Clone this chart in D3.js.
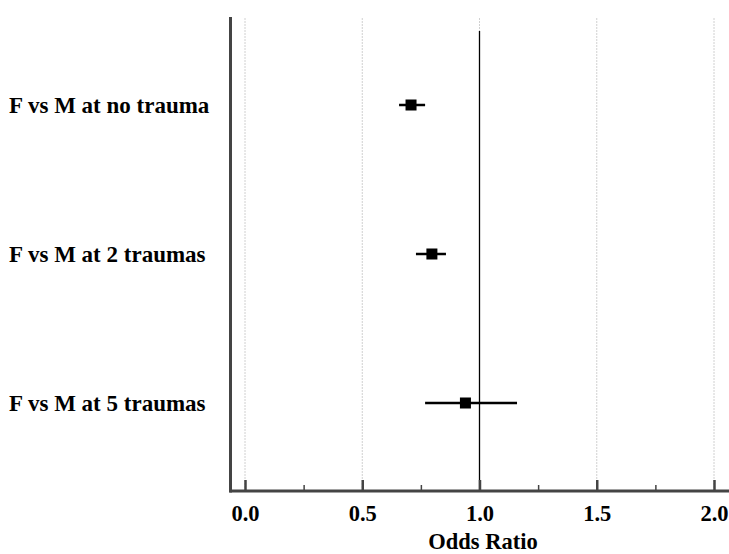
<!DOCTYPE html>
<html><head><meta charset="utf-8">
<script src="https://cdn.jsdelivr.net/npm/d3@7"></script>
<style>body{margin:0;background:#fff}svg{display:block}text{font-family:"Liberation Serif","Times New Roman",serif;font-weight:bold;fill:#000}</style>
</head><body><svg id="c" width="729" height="554"></svg>
<script>
const categories = ["F vs M at no trauma", "F vs M at 2 traumas", "F vs M at 5 traumas"];
const estimates = [0.708, 0.797, 0.940];
const lower = [0.657, 0.729, 0.768];
const upper = [0.768, 0.857, 1.160];
const majorTicks = [0, 0.5, 1.0, 1.5, 2.0];
const minorTicks = [0.25, 0.75, 1.25, 1.75];
const xLabel = "Odds Ratio";

const svg = d3.select("#c");
const x = d3.scaleLinear().domain([0, 2]).range([245, 714]);
const y = d3.scalePoint().domain(categories).range([105, 403]);
const axisY = 491, plotTop = 17, leftX = 230.5;

// grid
svg.append("g").selectAll("line").data(majorTicks).join("line")
  .attr("x1", d => x(d)).attr("x2", d => x(d)).attr("y1", 18).attr("y2", axisY)
  .attr("stroke", "#d0d0d0").attr("stroke-width", 1).attr("stroke-dasharray", "2,1");

// reference line at 1
svg.append("line").attr("x1", x(1)).attr("x2", x(1)).attr("y1", 31).attr("y2", axisY)
  .attr("stroke", "#000").attr("stroke-width", 1.3);

// x axis
const ax = svg.append("g").attr("transform", `translate(0,${axisY})`)
  .call(d3.axisBottom(x).tickValues(majorTicks).tickSize(-11).tickFormat(d3.format(".1f")));
ax.select(".domain").remove();
ax.selectAll(".tick line").attr("stroke", "#444").attr("stroke-width", 2.5);
ax.selectAll(".tick text").attr("font-size", 22.5).attr("font-family", "Liberation Serif").attr("font-weight", "bold").attr("fill", "#000").attr("dy", "0").attr("y", 30);
const axm = svg.append("g").attr("transform", `translate(0,${axisY})`)
  .call(d3.axisBottom(x).tickValues(minorTicks).tickSize(-6).tickFormat(""));
axm.select(".domain").remove();
axm.selectAll(".tick line").attr("stroke", "#444").attr("stroke-width", 1.5);

svg.append("line").attr("x1", leftX - 1).attr("x2", 729).attr("y1", axisY).attr("y2", axisY)
  .attr("stroke", "#444").attr("stroke-width", 3);
svg.append("line").attr("x1", leftX).attr("x2", leftX).attr("y1", plotTop).attr("y2", axisY + 1.5)
  .attr("stroke", "#444").attr("stroke-width", 3);

svg.append("text").attr("x", 483).attr("y", 549).attr("text-anchor", "middle")
  .attr("font-size", 22.5).text(xLabel);

// category labels
svg.append("g").selectAll("text").data(categories).join("text")
  .attr("x", 9).attr("y", d => y(d)).attr("dy", "0.33em").attr("font-size", 23).text(d => d);

// CIs
const rows = categories.map((c, i) => ({c, e: estimates[i], lo: lower[i], hi: upper[i]}));
svg.append("g").selectAll("line").data(rows).join("line")
  .attr("x1", d => x(d.lo)).attr("x2", d => x(d.hi)).attr("y1", d => y(d.c)).attr("y2", d => y(d.c))
  .attr("stroke", "#000").attr("stroke-width", 2.5);
svg.append("g").selectAll("rect").data(rows).join("rect")
  .attr("x", d => x(d.e) - 5.5).attr("y", d => y(d.c) - 5.5).attr("width", 11).attr("height", 11)
  .attr("fill", "#000");
</script></body></html>
